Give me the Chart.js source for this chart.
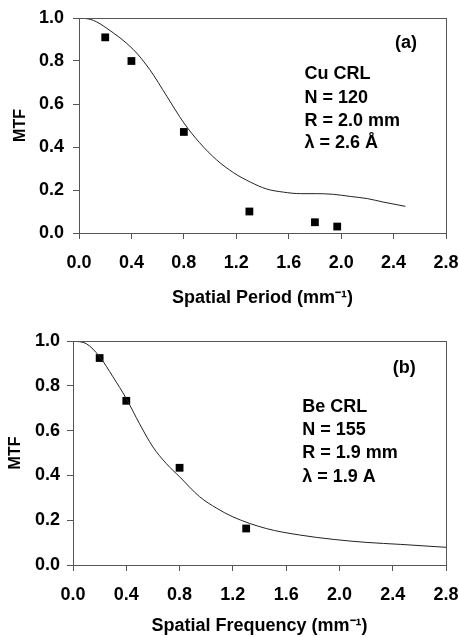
<!DOCTYPE html>
<html>
<head>
<meta charset="utf-8">
<script src="https://cdn.jsdelivr.net/npm/chart.js@4.4.1/dist/chart.umd.min.js"></script>
<style>
  html, body { margin: 0; padding: 0; background: #fff; }
  .box { position: relative; width: 459px; }
</style>
</head>
<body>
<div class="box" style="height:320px"><canvas id="chart-a"></canvas></div>
<div class="box" style="height:317px"><canvas id="chart-b"></canvas></div>
<script>
// (a) Cu CRL: measured points and model curve
const cuMeasX = [0.2, 0.4, 0.8, 1.3, 1.8, 1.97];
const cuMeasY = [0.91, 0.80, 0.47, 0.10, 0.05, 0.03];
const cuCurveX = [0.03, 0.11, 0.21, 0.415, 0.54, 0.67, 0.80, 0.92, 1.05, 1.18, 1.31, 1.43, 1.56, 1.69, 1.81, 1.94, 2.07, 2.2, 2.32, 2.49];
const cuCurveY = [1.0, 0.989, 0.953, 0.853, 0.76, 0.636, 0.512, 0.42, 0.34, 0.28, 0.236, 0.205, 0.19, 0.183, 0.183, 0.18, 0.17, 0.16, 0.144, 0.124];
const cuLabel = ['Cu CRL', 'N = 120', 'R = 2.0 mm', 'λ = 2.6 Å'];

// (b) Be CRL
const beMeasX = [0.2, 0.4, 0.8, 1.3];
const beMeasY = [0.924, 0.733, 0.434, 0.163];
const beCurveX = [0, 0.1, 0.2, 0.3, 0.4, 0.5, 0.6, 0.7, 0.8, 0.95, 1.08, 1.2, 1.45, 1.7, 1.96, 2.2, 2.46, 2.8];
const beCurveY = [1.0, 0.988, 0.93, 0.84, 0.743, 0.63, 0.527, 0.453, 0.394, 0.305, 0.253, 0.215, 0.163, 0.134, 0.114, 0.101, 0.092, 0.079];
const beLabel = ['Be CRL', 'N = 155', 'R = 1.9 mm', 'λ = 1.9 A'];

const FONT = '"Liberation Sans", Arial, sans-serif';
const pts = (xs, ys) => xs.map((x, i) => ({ x, y: ys[i] }));

// box around the plot + the text block, placed by data coordinates
const notes = {
  id: 'notes',
  afterDraw(chart, args, opts) {
    const { ctx, chartArea: a, scales } = chart;
    ctx.save();
    ctx.strokeStyle = '#555';
    ctx.lineWidth = 1;
    ctx.strokeRect(a.left + 0.5, a.top + 0.5, a.right - a.left, a.bottom - a.top);
    ctx.fillStyle = '#000';
    ctx.font = 'bold 18px ' + FONT;
    ctx.textBaseline = 'middle';
    ctx.fillText(opts.tag, scales.x.getPixelForValue(opts.tagX), scales.y.getPixelForValue(opts.tagY));
    opts.lines.forEach((t, i) => {
      ctx.fillText(t, scales.x.getPixelForValue(opts.textX), scales.y.getPixelForValue(opts.textY[i]));
    });
    ctx.restore();
  },
};

function makeChart(id, cfg) {
  return new Chart(document.getElementById(id), {
    type: 'scatter',
    data: {
      datasets: [
        {
          data: pts(cfg.curveX, cfg.curveY),
          showLine: true,
          borderColor: '#222',
          borderWidth: 1,
          pointRadius: 0,
          cubicInterpolationMode: 'monotone',
        },
        {
          data: pts(cfg.measX, cfg.measY),
          pointStyle: 'rect',
          pointRadius: 5.5,
          backgroundColor: '#000',
          borderWidth: 0,
        },
      ],
    },
    options: {
      responsive: true,
      maintainAspectRatio: false,
      animation: false,
      layout: { padding: { left: 0, top: cfg.top, right: 13, bottom: 0 } },
      plugins: {
        legend: { display: false },
        tooltip: { enabled: false },
        notes: cfg.notes,
      },
      scales: {
        x: {
          type: 'linear',
          min: 0,
          max: 2.8,
          afterFit: (s) => { s.height = cfg.xHeight; s.paddingLeft = 0; s.paddingRight = 0; },
          ticks: { stepSize: 0.4, color: '#000', padding: 13, font: { family: FONT, size: 18, weight: 'bold' },
            callback: (v) => v.toFixed(1) },
          grid: { drawOnChartArea: false, tickLength: 6, color: '#555' },
          border: { color: '#555' },
          title: { display: true, text: cfg.xTitle, color: '#000', padding: { top: 0, bottom: cfg.xTitlePad },
            font: { family: FONT, size: 18, weight: 'bold' } },
        },
        y: {
          min: 0,
          max: 1,
          afterFit: (s) => { s.width = cfg.yWidth; s.paddingTop = 0; s.paddingBottom = 0; },
          ticks: { stepSize: 0.2, color: '#000', padding: cfg.yTickPad, font: { family: FONT, size: 18, weight: 'bold' },
            callback: (v) => v.toFixed(1) },
          grid: { drawOnChartArea: false, tickLength: 6, color: '#555' },
          border: { color: '#555' },
          title: { display: true, text: 'MTF', color: '#000', padding: { top: cfg.yTitlePad, bottom: 0 },
            font: { family: FONT, size: 16, weight: 'bold' } },
        },
      },
    },
    plugins: [notes],
  });
}

makeChart('chart-a', {
  curveX: cuCurveX, curveY: cuCurveY, measX: cuMeasX, measY: cuMeasY,
  top: 18, xHeight: 87, yWidth: 79, yTickPad: 9, yTitlePad: 11, xTitlePad: 11,
  xTitle: 'Spatial Period (mm⁻¹)',
  notes: { tag: '(a)', tagX: 2.41, tagY: 0.885, lines: cuLabel, textX: 1.72, textY: [0.74, 0.63, 0.52, 0.42] },
});

makeChart('chart-b', {
  curveX: beCurveX, curveY: beCurveY, measX: beMeasX, measY: beMeasY,
  top: 21, xHeight: 72, yWidth: 73, yTickPad: 7, yTitlePad: 6, xTitlePad: 0,
  xTitle: 'Spatial Frequency (mm⁻¹)',
  notes: { tag: '(b)', tagX: 2.40, tagY: 0.878, lines: beLabel, textX: 1.72, textY: [0.704, 0.602, 0.499, 0.392] },
});
</script>
</body>
</html>
